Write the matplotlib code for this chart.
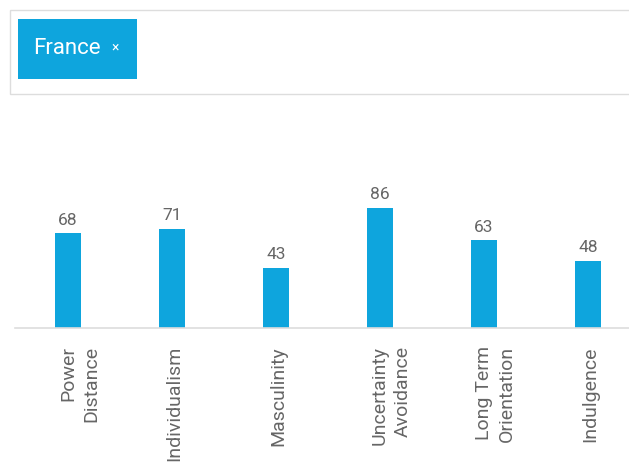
import matplotlib.pyplot as plt
from matplotlib.patches import Rectangle
from matplotlib.transforms import ScaledTranslation

plt.rcParams['font.family'] = ['Roboto', 'DejaVu Sans']

# Hofstede scores
dimensions = ['Power\nDistance', 'Individualism', 'Masculinity',
              'Uncertainty\nAvoidance', 'Long Term\nOrientation', 'Indulgence']
scores = [68, 71, 43, 86, 63, 48]
country = 'France'

BLUE = '#0ea5dd'
GREY_TEXT = '#666666'

W, H = 629, 466
fig = plt.figure(figsize=(W / 100, H / 100), dpi=100)

# search box with the selected country tag
fig.patches.append(Rectangle((10 / W, 1 - 94 / H), 640 / W, 84 / H,
                             transform=fig.transFigure, facecolor='white',
                             edgecolor='#dddddd', linewidth=1))
fig.patches.append(Rectangle((18 / W, 1 - 79 / H), 119 / W, 60 / H,
                             transform=fig.transFigure, facecolor=BLUE,
                             edgecolor='none'))
fig.text(33 / W, 1 - 49 / H, country, color='white', fontsize=16,
         ha='left', va='center')
fig.text(111 / W, 1 - 48 / H, '\u00d7', color='white', fontsize=10,
         ha='left', va='center')

# bar chart
ax = fig.add_axes([15 / W, 1 - 328 / H, 614 / W, 139.5 / H])
x = list(range(len(scores)))
ax.bar(x, scores, width=0.25, color=BLUE)
for xi, v in zip(x, scores):
    ax.annotate(str(v), (xi, v), xytext=(0, 4), textcoords='offset points',
                ha='center', va='bottom', fontsize=12.5, color=GREY_TEXT)

ax.set_xlim(-0.51, 5.394)
ax.set_ylim(0, 100)
for side in ['top', 'right', 'left']:
    ax.spines[side].set_visible(False)
ax.spines['bottom'].set_color('#dddddd')
ax.spines['bottom'].set_linewidth(1.2)
ax.set_yticks([])
ax.set_xticks(x)
labels = ax.set_xticklabels(dimensions, rotation=90, ha='right',
                            va='center_baseline', rotation_mode='anchor',
                            multialignment='right', linespacing=1.35,
                            fontsize=14, color=GREY_TEXT)
ax.tick_params(axis='x', length=0, pad=13)
# two-line labels: keep the first line on the bar, second line to its right
for lab in labels:
    if '\n' in lab.get_text():
        lab.set_transform(lab.get_transform() +
                          ScaledTranslation(7 / 100, 0, fig.dpi_scale_trans))

fig.savefig('out.png', dpi=100)
